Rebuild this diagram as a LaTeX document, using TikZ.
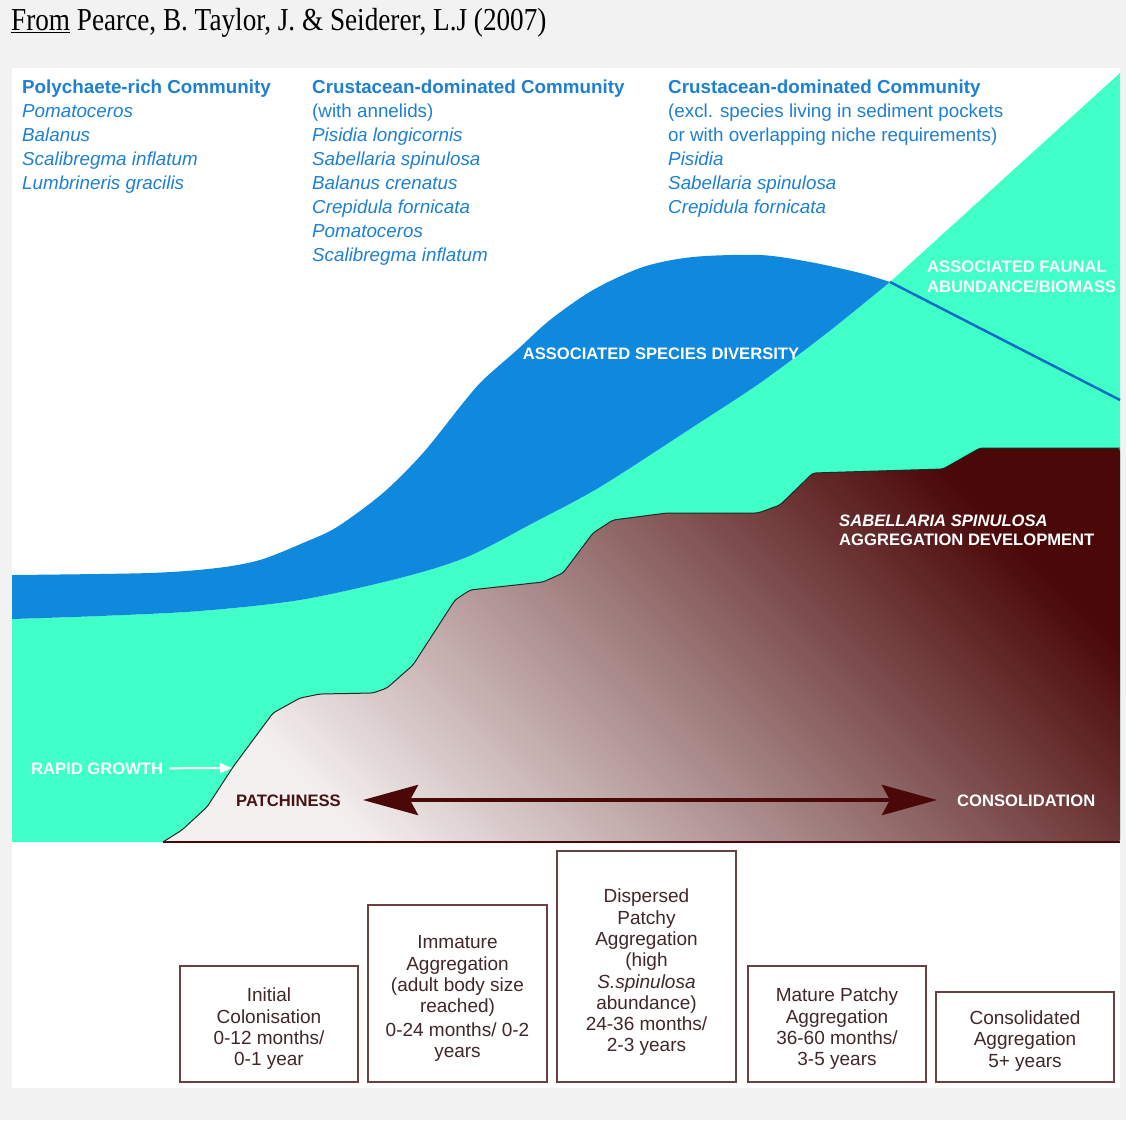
\documentclass[tikz,border=0pt]{standalone}
\usepackage{fontspec}
\usepackage{graphicx}
\setmainfont{Liberation Sans}
\newfontfamily\titlefont{Liberation Serif}
\usetikzlibrary{arrows.meta}
\definecolor{bgray}{RGB}{242,242,242}
\definecolor{tealc}{RGB}{64,255,199}
\definecolor{blueband}{RGB}{14,137,222}
\definecolor{blueline}{RGB}{10,110,200}
\definecolor{bluetext}{RGB}{30,128,210}
\definecolor{maroonc}{RGB}{75,8,8}
\definecolor{lightbrown}{RGB}{245,240,240}
\definecolor{midbrown}{RGB}{160,125,125}
\definecolor{boxline}{RGB}{105,65,65}
\definecolor{boxtext}{RGB}{65,40,40}
\definecolor{patchc}{RGB}{70,20,20}
\tikzset{
  bluetxt/.style={text=bluetext, anchor=base west, inner sep=0pt, font=\fontsize{18.8}{24}\selectfont},
  whitelbl/.style={text=white, anchor=base west, inner sep=0pt, font=\bfseries\fontsize{16.6}{19}\selectfont},
  stagebox/.style={draw=boxline, line width=1.6pt, inner sep=0pt},
  stagetext/.style={text=boxtext, align=center, inner sep=0pt, font=\fontsize{19}{21.3}\selectfont},
  bigarrow/.style={maroonc, line width=4.5pt, {Stealth[length=55pt,width=30pt,inset=8pt]}-{Stealth[length=55pt,width=30pt,inset=8pt]}},
  rgarrow/.style={white, line width=2pt, -{Triangle[length=12pt,width=10pt]}}
}
\begin{document}
\begin{tikzpicture}[x=1pt,y=-1pt]
\useasboundingbox (0,0) rectangle (1126,1120);
\fill[bgray] (0,0) rectangle (1126,1120);
\fill[white] (12,68) rectangle (1120,1088);

% title
\node[anchor=base west, inner sep=0pt] (title) at (11,30)
  {\scalebox{0.85}[1]{\titlefont\fontsize{32}{32}\selectfont\underline{From} Pearce, B. Taylor, J. \& Seiderer, L.J (2007)}};

% teal abundance region
\fill[tealc] (12,842) -- plot[smooth] coordinates {(12,619) (100,616) (200,611) (300,600) (400,578) (467,557) (533,523) (600,487) (693,427) (760,383) (827,333) (890,282)} -- (1120,73) -- (1120,842) -- cycle;

% blue diversity band
\fill[blueband] plot[smooth] coordinates {(12,575) (150,573) (217,568) (260,560) (303,543) (337,527) (383,493) (423,453) (463,403) (483,380) (517,350) (550,320) (593,290) (643,267) (693,257) (760,255) (810,262) (860,273) (890,282)}
  -- plot[smooth] coordinates {(890,282) (827,333) (760,383) (693,427) (600,487) (533,523) (467,557) (400,578) (300,600) (200,611) (100,616) (12,619)} -- cycle;

% thin continuation of the diversity curve
\draw[blueline, line width=2.5pt] (890,282) -- (1120,400);

% Sabellaria aggregation
\shade[top color=maroonc, bottom color=lightbrown, middle color=midbrown, shading angle=-45, rounded corners=3pt]
  (163,842) -- (182,830) -- (207,807) -- (233,767) -- (273,713) -- (300,698) -- (320,694) -- (373,693) -- (387,688) -- (413,665) -- (455,600) -- (470,590) -- (543,582) -- (563,573) -- (593,533) -- (613,520) -- (667,513) -- (758,513) -- (780,505) -- (813,473) -- (943,469) -- (980,448) -- (1120,448) -- (1120,842) -- cycle;
\draw[black!85, line width=1pt, rounded corners=3pt]
  (163,842) -- (182,830) -- (207,807) -- (233,767) -- (273,713) -- (300,698) -- (320,694) -- (373,693) -- (387,688) -- (413,665) -- (455,600) -- (470,590) -- (543,582) -- (563,573) -- (593,533) -- (613,520) -- (667,513) -- (758,513) -- (780,505) -- (813,473) -- (943,469) -- (980,448) -- (1120,448);
\draw[maroonc, line width=1.5pt] (163,842) -- (1120,842);

% blue community lists
\foreach \t [count=\i] in {{\textbf{Polychaete-rich Community}}, {\textit{Pomatoceros}}, {\textit{Balanus}}, {\textit{Scalibregma inflatum}}, {\textit{Lumbrineris gracilis}}}
  \node[bluetxt] (ca\i) at (22,{93+24*(\i-1)}) {\t};
\foreach \t [count=\i] in {{\textbf{Crustacean-dominated Community}}, {(with annelids)}, {\textit{Pisidia longicornis}}, {\textit{Sabellaria spinulosa}}, {\textit{Balanus crenatus}}, {\textit{Crepidula fornicata}}, {\textit{Pomatoceros}}, {\textit{Scalibregma inflatum}}}
  \node[bluetxt] (cb\i) at (312,{93+24*(\i-1)}) {\t};
\foreach \t [count=\i] in {{\textbf{Crustacean-dominated Community}}, {(excl. species living in sediment pockets}, {or with overlapping niche requirements)}, {\textit{Pisidia}}, {\textit{Sabellaria spinulosa}}, {\textit{Crepidula fornicata}}}
  \node[bluetxt] (cc\i) at (668,{93+24*(\i-1)}) {\t};

% white labels
\node[whitelbl, anchor=base] (div) at (661,359) {ASSOCIATED SPECIES DIVERSITY};
\node[whitelbl] (fa1) at (927,272) {ASSOCIATED FAUNAL};
\node[whitelbl] (fa2) at (927,292) {ABUNDANCE/BIOMASS};
\node[whitelbl] (sa1) at (839,526) {\itshape SABELLARIA SPINULOSA};
\node[whitelbl] (sa2) at (839,545) {AGGREGATION DEVELOPMENT};
\node[whitelbl] (rapid) at (31,774) {RAPID GROWTH};
\node[whitelbl] (consol) at (957,806) {CONSOLIDATION};
\node[whitelbl, text=patchc] (patch) at (236,806) {PATCHINESS};

% arrows
\coordinate (rg) at (232,768);
\draw[rgarrow] ([xshift=6pt]rapid.east) -- (rg);
\coordinate (aL) at (363,800);
\coordinate (aR) at (937,800);
\draw[bigarrow] (aL) -- (aR);

% stage boxes
\node[stagebox, minimum width=178pt, minimum height=116pt] (b1) at (269,1024) {};
\node[stagebox, minimum width=179pt, minimum height=177pt] (b2) at (457.5,993.5) {};
\node[stagebox, minimum width=179pt, minimum height=231pt] (b3) at (646.5,966.5) {};
\node[stagebox, minimum width=178pt, minimum height=116pt] (b4) at (837,1024) {};
\node[stagebox, minimum width=178pt, minimum height=90pt] (b5) at (1025,1037) {};
\node[stagetext] (t1) at ([yshift=-5pt]b1.center) {Initial\\Colonisation\\0-12 months/\\0-1 year};
\node[stagetext] (t2) at ([yshift=-5pt]b2.center) {Immature\\Aggregation\\(adult body size\\reached)\\[2pt]0-24 months/ 0-2\\years};
\node[stagetext] (t3) at ([yshift=-6pt]b3.center) {Dispersed\\Patchy\\Aggregation\\(high\\\textit{S.spinulosa}\\abundance)\\24-36 months/\\2-3 years};
\node[stagetext] (t4) at ([yshift=-5pt]b4.center) {Mature Patchy\\Aggregation\\36-60 months/\\3-5 years};
\node[stagetext] (t5) at ([yshift=-4pt]b5.center) {Consolidated\\Aggregation\\5+ years};
\end{tikzpicture}
\end{document}
